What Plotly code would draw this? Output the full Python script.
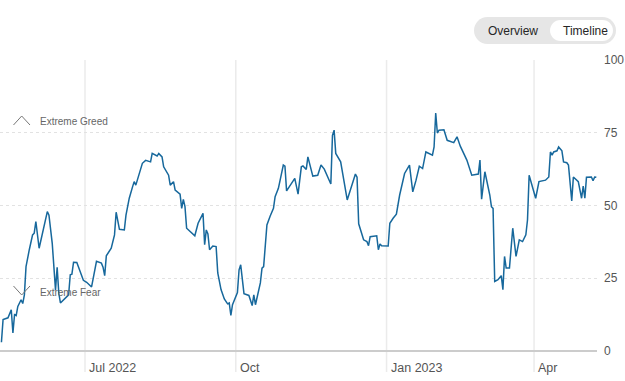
import plotly.graph_objects as go

dates = ["2022-05-11","2022-05-12","2022-05-15","2022-05-17","2022-05-18","2022-05-19","2022-05-20","2022-05-21",
"2022-05-23","2022-05-24","2022-05-25","2022-05-26","2022-05-28","2022-05-30","2022-05-31","2022-06-01",
"2022-06-03","2022-06-05","2022-06-08","2022-06-09","2022-06-11","2022-06-13","2022-06-14","2022-06-15",
"2022-06-16","2022-06-21","2022-06-22","2022-06-23","2022-06-24","2022-06-26","2022-06-30","2022-07-02",
"2022-07-05","2022-07-08","2022-07-11","2022-07-12","2022-07-13","2022-07-14","2022-07-17","2022-07-19",
"2022-07-20","2022-07-22","2022-07-25","2022-07-26","2022-07-28","2022-07-30","2022-07-31","2022-08-01",
"2022-08-04","2022-08-05","2022-08-07","2022-08-10","2022-08-11","2022-08-14","2022-08-15","2022-08-17",
"2022-08-18","2022-08-21","2022-08-22","2022-08-24","2022-08-25","2022-08-28","2022-08-29","2022-08-30",
"2022-08-31","2022-09-01","2022-09-06","2022-09-08","2022-09-11","2022-09-12","2022-09-13","2022-09-14",
"2022-09-15","2022-09-17","2022-09-19","2022-09-20","2022-09-22","2022-09-24","2022-09-26","2022-09-27",
"2022-09-28","2022-09-29","2022-10-02","2022-10-03","2022-10-04","2022-10-06","2022-10-09","2022-10-11",
"2022-10-12","2022-10-13","2022-10-16","2022-10-17","2022-10-18","2022-10-20","2022-10-22","2022-10-24",
"2022-10-25","2022-10-27","2022-10-30","2022-10-31","2022-11-01","2022-11-06","2022-11-08","2022-11-10",
"2022-11-11","2022-11-13","2022-11-14","2022-11-17","2022-11-20","2022-11-22","2022-11-24","2022-11-28",
"2022-11-29","2022-11-30","2022-12-01","2022-12-04","2022-12-08","2022-12-13","2022-12-14","2022-12-15",
"2022-12-18","2022-12-20","2022-12-21","2022-12-22","2022-12-26","2022-12-27","2022-12-28","2022-12-29",
"2023-01-02","2023-01-03","2023-01-05","2023-01-07","2023-01-09","2023-01-12","2023-01-15","2023-01-17",
"2023-01-19","2023-01-21","2023-01-23","2023-01-25","2023-01-29","2023-01-30","2023-01-31","2023-02-01",
"2023-02-02","2023-02-05","2023-02-07","2023-02-11","2023-02-13","2023-02-15","2023-02-19","2023-02-22",
"2023-02-26","2023-02-27","2023-02-28","2023-03-02","2023-03-05","2023-03-06","2023-03-07","2023-03-08",
"2023-03-10","2023-03-12","2023-03-13","2023-03-14","2023-03-15","2023-03-17","2023-03-19","2023-03-21",
"2023-03-23","2023-03-25","2023-03-27","2023-03-28","2023-03-29","2023-04-02","2023-04-04","2023-04-08",
"2023-04-10","2023-04-11","2023-04-12","2023-04-13","2023-04-15","2023-04-16","2023-04-18","2023-04-19",
"2023-04-21","2023-04-22","2023-04-24","2023-04-25","2023-04-28","2023-04-30","2023-05-01","2023-05-02",
"2023-05-03","2023-05-06","2023-05-07","2023-05-08","2023-05-09"]

scores = [3.0,10.8,11.4,14.2,6.2,12.5,12.2,15.3,
17.6,16.3,19.3,29.0,34.8,39.9,40.5,44.5,
35.3,40.5,47.9,46.7,37.0,21.0,28.8,19.9,
16.5,19.3,26.2,26.4,30.5,30.4,24.3,23.6,
22.0,30.8,30.2,28.8,25.9,32.7,35.3,39.9,
47.7,41.8,41.6,46.7,52.5,56.4,58.2,57.0,
62.8,64.5,65.5,65.0,67.9,67.0,67.9,66.7,
63.3,60.4,57.0,58.2,55.3,53.9,49.0,52.1,
49.6,42.2,39.6,43.9,47.3,36.5,41.6,40.2,
34.8,36.1,35.9,26.8,21.1,17.9,16.2,16.5,
12.2,15.9,20.1,27.9,29.6,19.7,19.1,15.6,
19.3,15.9,23.4,28.5,29.0,43.3,46.4,49.0,
53.0,55.9,63.9,63.5,55.0,59.3,53.9,63.3,
63.6,62.4,66.7,60.1,60.4,63.9,62.5,57.4,
74.1,75.9,67.9,65.0,51.9,60.8,59.7,43.7,
38.2,37.6,36.2,39.3,39.6,34.8,36.8,36.2,
36.1,43.9,45.6,47.0,53.6,61.0,63.9,54.7,
58.7,63.5,62.7,68.4,67.3,70.1,81.8,74.9,
75.9,76.0,72.4,71.6,73.6,70.4,65.6,60.4,
60.8,65.6,52.2,61.6,53.6,49.6,49.0,23.9,
24.5,25.9,21.1,32.5,28.5,28.5,42.2,32.5,
38.2,37.6,39.9,45.0,60.4,52.5,58.2,58.7,
59.8,68.4,67.3,68.4,68.8,70.1,68.8,65.0,
64.7,63.9,51.6,59.8,58.2,52.5,56.7,52.5,
59.7,59.8,58.5,59.8,59.7]

x_tick_dates = ["2022-07-01", "2022-10-01", "2023-01-01", "2023-04-01"]
x_tick_labels = ["Jul 2022", "Oct", "Jan 2023", "Apr"]
y_ticks = [0, 25, 50, 75, 100]
zone_labels = ["Extreme Greed", "Extreme Fear"]
zone_levels = [78.9, 20.2]
buttons = ["Overview", "Timeline"]

W, H = 625, 381
ML, MR, MT, MB = 0, 28, 60, 30
PW, PH = W - ML - MR, H - MT - MB
FONT = "Liberation Sans, Arial, Helvetica, sans-serif"

def px(x, y):
    return ((x - ML) / PW, (H - MB - y) / PH)

def pill(x0, y0, x1, y1):
    r = (y1 - y0) / 2
    k = 0.5523 * r
    def P(x, y):
        a, b = px(x, y)
        return f"{a:.5f},{b:.5f}"
    d = f"M{P(x0+r,y0)} L{P(x1-r,y0)} "
    d += f"C{P(x1-r+k,y0)} {P(x1,y0+r-k)} {P(x1,y0+r)} "
    d += f"C{P(x1,y0+r+k)} {P(x1-r+k,y1)} {P(x1-r,y1)} "
    d += f"L{P(x0+r,y1)} "
    d += f"C{P(x0+r-k,y1)} {P(x0,y0+r+k)} {P(x0,y0+r)} "
    d += f"C{P(x0,y0+r-k)} {P(x0+r-k,y0)} {P(x0+r,y0)} Z"
    return d

def polyline(points):
    s = ""
    for i, (x, y) in enumerate(points):
        a, b = px(x, y)
        s += ("M" if i == 0 else " L") + f"{a:.5f},{b:.5f}"
    return s

fig = go.Figure()
fig.add_trace(go.Scatter(x=dates, y=scores, mode="lines",
                         line=dict(color="#17689c", width=1.5), hoverinfo="skip"))

shapes = []
for d in x_tick_dates:
    shapes.append(dict(type="line", xref="x", yref="paper", x0=d, x1=d,
                       y0=px(0, 372)[1], y1=1, line=dict(color="#ebebeb", width=1.5), layer="below"))
shapes.append(dict(type="path", xref="paper", yref="paper",
                   path=polyline([(13.5, 125), (21.7, 116), (30, 125)]),
                   line=dict(color="#777", width=1)))
shapes.append(dict(type="path", xref="paper", yref="paper",
                   path=polyline([(13.5, 286), (21.7, 295), (30, 286)]),
                   line=dict(color="#777", width=1)))
shapes.append(dict(type="path", xref="paper", yref="paper", path=pill(474, 17, 616, 44),
                   fillcolor="#e6e6e6", line=dict(width=0)))
shapes.append(dict(type="path", xref="paper", yref="paper", path=pill(550, 20, 613, 41),
                   fillcolor="#ffffff", line=dict(width=0)))

annotations = []
for d, t in zip(x_tick_dates, x_tick_labels):
    annotations.append(dict(x=d, xref="x", y=px(0, 368)[1], yref="paper", text=t, showarrow=False,
                            xanchor="left", yanchor="middle", xshift=2,
                            font=dict(family=FONT, size=12.5, color="#555")))
for t, lv in zip(zone_labels, zone_levels):
    annotations.append(dict(x=px(38, 0)[0], xref="paper", y=lv, yref="y", text=t, showarrow=False,
                            xanchor="left", yanchor="middle",
                            font=dict(family=FONT, size=10, color="#666")))
for t, cx in zip(buttons, [513, 585]):
    annotations.append(dict(x=px(cx, 0)[0], xref="paper", y=px(0, 31)[1], yref="paper", text=t,
                            showarrow=False, xanchor="center", yanchor="middle",
                            font=dict(family=FONT, size=12, color="#262626")))

fig.update_layout(
    width=W, height=H, margin=dict(l=ML, r=MR, t=MT, b=MB),
    paper_bgcolor="white", plot_bgcolor="white", showlegend=False,
    shapes=shapes, annotations=annotations,
    xaxis=dict(type="date", range=["2022-05-10 03:00", "2023-05-09 10:00"],
               showgrid=False, showticklabels=False, zeroline=False,
               showline=False, fixedrange=True),
    yaxis=dict(range=[0, 100], side="right", tickvals=y_ticks, showgrid=True,
               gridcolor="#e2e2e2", griddash="3px,3px", gridwidth=1,
               zeroline=True, zerolinecolor="#cccccc", zerolinewidth=2,
               tickfont=dict(family=FONT, size=12, color="#555"),
               ticks="", ticklabelstandoff=6, fixedrange=True),
)

fig.write_html("out.html")
